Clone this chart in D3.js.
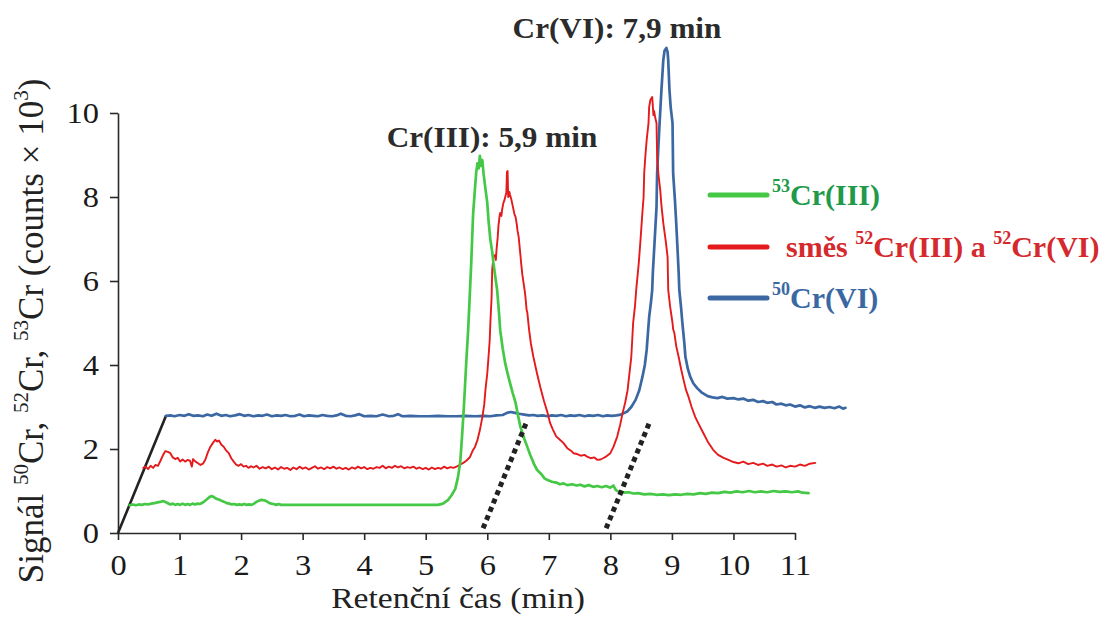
<!DOCTYPE html>
<html>
<head>
<meta charset="utf-8">
<script src="https://cdn.jsdelivr.net/npm/d3@7"></script>
<style>
  html, body { margin: 0; padding: 0; background: #fff; }
  svg { display: block; }
</style>
</head>
<body>
<svg id="chart" width="1103" height="628"></svg>
<script>
// Retention time axis (min) and signal axis (counts × 10^3)
const timeTicks = [0, 1, 2, 3, 4, 5, 6, 7, 8, 9, 10, 11];
const signalTicks = [0, 2, 4, 6, 8, 10];

// Species retention times marked on the depth planes
const retentionTimes = [5.9, 7.9];
const peakLabels = ["Cr(III): 5,9 min", "Cr(VI): 7,9 min"];

// End point of the slanted depth axis (time, signal)
const depthAxisEnd = [0.78, 2.79];

// 53Cr(III) trace [time, signal] as plotted on its depth plane
const cr53 = [
  [0.19,0.66],[0.24,0.68],[0.29,0.66],[0.34,0.68],[0.39,0.67],[0.44,0.69],[0.49,0.68],[0.54,0.70],
  [0.59,0.71],[0.64,0.73],[0.69,0.74],[0.73,0.76],[0.77,0.74],[0.81,0.71],[0.85,0.68],[0.89,0.70],
  [0.93,0.67],[0.97,0.69],[1.01,0.67],[1.05,0.70],[1.09,0.67],[1.13,0.69],[1.17,0.67],[1.21,0.70],
  [1.25,0.68],[1.29,0.70],[1.33,0.69],[1.37,0.72],[1.41,0.76],[1.45,0.81],[1.49,0.86],[1.53,0.88],
  [1.57,0.84],[1.61,0.81],[1.65,0.79],[1.69,0.76],[1.73,0.74],[1.77,0.71],[1.81,0.70],[1.85,0.68],
  [1.89,0.69],[1.93,0.67],[1.97,0.68],[2.01,0.67],[2.05,0.69],[2.09,0.67],[2.13,0.68],[2.17,0.67],
  [2.21,0.70],[2.25,0.74],[2.29,0.77],[2.33,0.79],[2.37,0.78],[2.41,0.76],[2.45,0.72],[2.49,0.70],
  [2.53,0.69],[2.57,0.67],[2.61,0.69],[2.65,0.67],[2.70,0.67],[3.50,0.67],[4.50,0.67],[5.20,0.67],
  [5.28,0.70],[5.36,0.78],[5.42,0.90],[5.48,1.05],[5.52,1.30],[5.56,1.67],[5.59,2.30],[5.62,3.00],
  [5.66,4.10],[5.69,4.85],[5.72,5.80],[5.74,6.45],[5.77,7.60],[5.80,8.20],[5.82,8.58],[5.84,8.80],
  [5.86,8.68],[5.88,8.98],[5.90,8.74],[5.92,8.88],[5.94,8.55],[5.97,8.20],[6.00,7.86],[6.02,7.45],
  [6.05,6.98],[6.08,6.70],[6.10,6.43],[6.13,6.10],[6.16,5.79],[6.19,5.25],[6.21,4.83],[6.25,4.40],
  [6.29,4.05],[6.33,3.80],[6.37,3.57],[6.41,3.35],[6.46,3.10],[6.50,2.80],[6.54,2.52],[6.60,2.25],
  [6.65,2.05],[6.70,1.85],[6.76,1.64],[6.81,1.50],[6.88,1.40],[6.93,1.30],[6.98,1.26],[7.05,1.22],
  [7.12,1.20],[7.18,1.16],[7.24,1.18],[7.30,1.14],[7.38,1.16],[7.45,1.13],[7.51,1.15],[7.58,1.11],
  [7.65,1.14],[7.72,1.10],[7.79,1.12],[7.86,1.09],[7.93,1.12],[8.00,1.08],[8.05,1.13],[8.09,1.02],
  [8.14,0.98],[8.22,0.96],[8.30,0.97],[8.37,0.94],[8.45,0.95],[8.55,0.92],[8.65,0.93],[8.75,0.91],
  [8.85,0.92],[8.95,0.90],[9.05,0.92],[9.15,0.91],[9.25,0.93],[9.35,0.92],[9.46,0.95],[9.55,0.93],
  [9.65,0.96],[9.75,0.95],[9.85,0.98],[9.95,0.96],[10.05,0.99],[10.15,0.97],[10.25,1.00],[10.35,0.97],
  [10.45,0.99],[10.55,0.97],[10.65,1.00],[10.75,0.98],[10.85,0.99],[10.95,0.97],[11.05,0.99],[11.12,0.96],
  [11.22,0.95]
];

// Mixture of 52Cr(III) and 52Cr(VI)
const cr52mix = [
  [0.41,1.55],[0.45,1.58],[0.49,1.52],[0.53,1.60],[0.57,1.55],[0.61,1.62],[0.65,1.60],[0.69,1.72],
  [0.73,1.85],[0.77,1.95],[0.81,1.93],[0.85,1.90],[0.89,1.80],[0.93,1.76],[0.97,1.79],[1.01,1.70],
  [1.05,1.75],[1.09,1.70],[1.13,1.74],[1.17,1.72],[1.20,1.58],[1.22,1.76],[1.26,1.70],[1.30,1.66],
  [1.34,1.62],[1.38,1.65],[1.42,1.75],[1.46,1.92],[1.50,2.05],[1.54,2.14],[1.58,2.22],[1.61,2.18],
  [1.64,2.20],[1.68,2.10],[1.72,2.05],[1.76,1.96],[1.80,1.90],[1.84,1.78],[1.88,1.70],[1.92,1.63],
  [1.96,1.60],[2.00,1.64],[2.04,1.58],[2.08,1.60],[2.12,1.55],[2.16,1.59],[2.20,1.56],[2.25,1.60],
  [2.30,1.53],[2.35,1.57],[2.40,1.54],[2.45,1.58],[2.50,1.52],[2.55,1.56],[2.60,1.51],[2.65,1.57],
  [2.70,1.53],[2.75,1.55],[2.80,1.50],[2.85,1.56],[2.90,1.52],[2.95,1.58],[3.00,1.53],[3.05,1.56],
  [3.10,1.51],[3.15,1.55],[3.20,1.59],[3.25,1.53],[3.30,1.56],[3.35,1.52],[3.40,1.57],[3.45,1.54],
  [3.50,1.58],[3.55,1.53],[3.60,1.56],[3.65,1.52],[3.70,1.55],[3.75,1.51],[3.80,1.56],[3.85,1.53],
  [3.90,1.58],[3.95,1.54],[4.00,1.57],[4.05,1.52],[4.10,1.55],[4.15,1.53],[4.20,1.57],[4.25,1.55],
  [4.30,1.60],[4.35,1.54],[4.40,1.58],[4.45,1.55],[4.50,1.60],[4.55,1.56],[4.60,1.59],[4.65,1.54],
  [4.70,1.57],[4.75,1.55],[4.80,1.58],[4.85,1.53],[4.90,1.56],[4.95,1.52],[5.00,1.55],[5.05,1.51],
  [5.10,1.56],[5.15,1.52],[5.20,1.55],[5.25,1.53],[5.30,1.58],[5.35,1.54],[5.40,1.57],[5.45,1.55],
  [5.50,1.58],[5.55,1.62],[5.61,1.67],[5.66,1.72],[5.72,1.81],[5.76,1.95],[5.80,2.05],[5.84,2.21],
  [5.88,2.45],[5.92,2.76],[5.95,3.05],[5.97,3.40],[6.00,3.80],[6.02,4.19],[6.04,4.60],[6.05,5.00],
  [6.07,5.60],[6.08,6.26],[6.10,6.57],[6.13,6.62],[6.14,6.50],[6.15,6.74],[6.17,7.05],[6.18,7.29],
  [6.20,7.55],[6.21,7.62],[6.23,7.55],[6.24,7.69],[6.26,7.85],[6.28,7.93],[6.30,8.05],[6.31,8.10],
  [6.32,8.60],[6.33,8.62],[6.34,8.00],[6.36,8.12],[6.37,8.05],[6.39,7.95],[6.42,7.74],[6.44,7.60],
  [6.46,7.52],[6.48,7.35],[6.49,7.21],[6.51,7.05],[6.52,6.90],[6.54,6.60],[6.55,6.43],[6.57,6.15],
  [6.59,5.95],[6.61,5.75],[6.62,5.62],[6.64,5.30],[6.65,5.26],[6.68,4.83],[6.71,4.50],[6.75,4.19],
  [6.80,3.85],[6.86,3.48],[6.92,3.15],[6.98,2.86],[7.02,2.62],[7.07,2.45],[7.12,2.30],[7.18,2.22],
  [7.24,2.14],[7.30,2.02],[7.36,1.96],[7.40,1.90],[7.46,1.88],[7.52,1.84],[7.58,1.86],[7.63,1.81],
  [7.68,1.78],[7.74,1.80],[7.79,1.74],[7.84,1.75],[7.88,1.78],[7.93,1.82],[8.00,1.90],[8.05,2.05],
  [8.11,2.29],[8.16,2.58],[8.20,2.86],[8.24,3.10],[8.28,3.40],[8.31,3.80],[8.34,4.19],[8.37,5.00],
  [8.40,5.40],[8.42,5.79],[8.46,6.40],[8.49,6.98],[8.52,7.62],[8.54,8.00],[8.55,8.57],[8.57,9.00],
  [8.59,9.36],[8.62,9.76],[8.63,10.14],[8.65,10.31],[8.68,10.38],[8.70,9.95],[8.71,10.05],[8.73,9.88],
  [8.75,9.76],[8.76,8.95],[8.78,8.55],[8.81,8.17],[8.83,7.80],[8.86,7.38],[8.90,6.95],[8.93,6.57],
  [8.94,5.79],[8.97,5.40],[9.01,5.00],[9.02,4.85],[9.04,4.76],[9.07,4.45],[9.11,4.19],[9.15,3.90],
  [9.19,3.64],[9.23,3.40],[9.27,3.24],[9.32,3.00],[9.38,2.76],[9.44,2.58],[9.51,2.38],[9.58,2.18],
  [9.67,1.98],[9.75,1.86],[9.84,1.79],[9.92,1.74],[10.00,1.69],[10.08,1.66],[10.16,1.70],[10.24,1.64],
  [10.32,1.67],[10.40,1.62],[10.48,1.65],[10.55,1.60],[10.63,1.63],[10.70,1.58],[10.78,1.61],[10.85,1.56],
  [10.92,1.60],[11.00,1.58],[11.08,1.63],[11.16,1.60],[11.24,1.65],[11.33,1.67]
];

// 50Cr(VI) trace
const cr50 = [
  [0.78,2.79],[0.85,2.80],[0.92,2.78],[1.00,2.81],[1.08,2.79],[1.15,2.83],[1.22,2.79],[1.30,2.80],
  [1.38,2.78],[1.45,2.82],[1.52,2.79],[1.60,2.84],[1.68,2.79],[1.75,2.81],[1.82,2.78],[1.90,2.80],
  [1.98,2.83],[2.05,2.79],[2.12,2.81],[2.20,2.78],[2.28,2.80],[2.35,2.79],[2.42,2.82],[2.50,2.78],
  [2.58,2.80],[2.65,2.79],[2.72,2.81],[2.80,2.78],[2.88,2.79],[2.95,2.82],[3.02,2.78],[3.10,2.80],
  [3.18,2.79],[3.25,2.78],[3.32,2.81],[3.40,2.79],[3.48,2.78],[3.55,2.80],[3.62,2.84],[3.70,2.79],
  [3.78,2.78],[3.85,2.80],[3.92,2.83],[4.00,2.78],[4.10,2.79],[4.20,2.78],[4.30,2.82],[4.40,2.78],
  [4.48,2.79],[4.55,2.83],[4.62,2.78],[4.75,2.79],[4.90,2.78],[5.05,2.78],[5.20,2.79],[5.35,2.78],
  [5.50,2.78],[5.65,2.79],[5.80,2.78],[5.95,2.79],[6.05,2.78],[6.15,2.80],[6.25,2.81],[6.32,2.86],
  [6.38,2.88],[6.45,2.86],[6.52,2.84],[6.60,2.82],[6.68,2.80],[6.75,2.81],[6.82,2.79],[6.90,2.80],
  [6.98,2.78],[7.05,2.80],[7.12,2.79],[7.20,2.81],[7.28,2.78],[7.35,2.80],[7.42,2.79],[7.50,2.81],
  [7.58,2.78],[7.65,2.80],[7.72,2.79],[7.80,2.81],[7.88,2.78],[7.95,2.80],[8.02,2.79],[8.10,2.80],
  [8.17,2.82],[8.23,2.86],[8.28,2.90],[8.34,3.00],[8.41,3.17],[8.47,3.40],[8.52,3.71],[8.56,4.00],
  [8.59,4.36],[8.61,4.75],[8.63,5.14],[8.66,5.50],[8.68,5.79],[8.69,6.19],[8.72,6.98],[8.75,7.76],
  [8.76,8.57],[8.78,9.20],[8.80,9.76],[8.83,10.55],[8.86,11.26],[8.88,11.48],[8.91,11.55],[8.93,11.45],
  [8.94,11.26],[8.96,10.55],[8.98,10.14],[9.01,9.76],[9.02,8.57],[9.05,7.90],[9.07,7.38],[9.09,6.80],
  [9.11,6.19],[9.12,5.79],[9.15,5.35],[9.17,5.00],[9.20,4.55],[9.22,4.19],[9.26,3.90],[9.30,3.71],
  [9.35,3.56],[9.41,3.45],[9.48,3.35],[9.58,3.26],[9.66,3.23],[9.74,3.21],[9.82,3.24],[9.90,3.20],
  [10.00,3.21],[10.08,3.18],[10.16,3.20],[10.24,3.15],[10.32,3.17],[10.40,3.12],[10.48,3.14],[10.55,3.10],
  [10.63,3.12],[10.70,3.06],[10.78,3.08],[10.85,3.04],[10.92,3.06],[11.00,3.01],[11.08,3.04],[11.16,2.99],
  [11.24,3.02],[11.32,2.98],[11.40,3.01],[11.48,2.98],[11.56,3.00],[11.64,2.97],[11.72,3.01],[11.78,2.96],
  [11.82,2.98]
];

// Legend entries: rich-text parts ([text, isSuperscript])
const legendEntries = [
  { key: "cr53", parts: [["53", true], ["Cr(III)", false]] },
  { key: "mix",  parts: [["směs ", false], ["52", true], ["Cr(III) a ", false], ["52", true], ["Cr(VI)", false]] },
  { key: "cr50", parts: [["50", true], ["Cr(VI)", false]] }
];

const serif = '"Liberation Serif","Times New Roman",Times,serif';
const styles = {
  cr53: { line: "#45c845", text: "#1f9a4b", width: 2.7, textX: 772 },
  mix:  { line: "#e41a1c", text: "#d42a2e", width: 1.9, textX: 786 },
  cr50: { line: "#3b68a3", text: "#3a68a2", width: 2.7, textX: 772 }
};
const stretch = 1.12; // horizontal widening of the regular-weight lettering

const svg = d3.select("#chart");
svg.append("rect").attr("width", 1103).attr("height", 628).attr("fill", "#fff");

const x = d3.scaleLinear().domain([0, 11]).range([118, 795]);
const y = d3.scaleLinear().domain([0, 10]).range([533, 113]);

// Axes
const xAxis = d3.axisBottom(x).tickValues(timeTicks).tickSize(7).tickSizeOuter(0).tickPadding(14).tickFormat(d3.format("d"));
const yAxis = d3.axisLeft(y).tickValues(signalTicks).tickSize(8).tickSizeOuter(0).tickPadding(9).tickFormat(d3.format("d"));

const gx = svg.append("g").attr("transform", `translate(0,${y(0)})`).call(xAxis);
const gy = svg.append("g").attr("transform", `translate(${x(0)},0)`).call(yAxis);
[gx, gy].forEach(g => {
  g.select(".domain").attr("stroke", "#2a2a2a").attr("stroke-width", 1.6);
  g.selectAll(".tick line").attr("stroke", "#2a2a2a").attr("stroke-width", 1.6);
  g.selectAll(".tick text")
    .attr("fill", "#1a1a1a")
    .attr("transform", `scale(${stretch},1)`)
    .style("font-family", serif).style("font-size", "29px");
});

// Rich text helper with superscripts
function richText(sel, parts, size) {
  const shift = size * 0.42;
  let raised = false;
  parts.forEach(([t, sup]) => {
    const ts = sel.append("tspan").text(t);
    if (sup) {
      ts.attr("font-size", size * 0.6).attr("dy", raised ? 0 : -shift);
      raised = true;
    } else {
      ts.attr("font-size", size).attr("dy", raised ? shift : 0);
      raised = false;
    }
  });
  return sel;
}

// Axis titles
richText(
  svg.append("text")
    .attr("transform", "translate(43,331) rotate(-90)")
    .attr("text-anchor", "middle")
    .attr("fill", "#222")
    .style("font-family", serif),
  [["Signál ", false], ["50", true], ["Cr, ", false], ["52", true], ["Cr, ", false], ["53", true],
   ["Cr (counts ", false], ["× ", false], ["10", false], ["3", true], [")", false]],
  35
);

svg.append("text")
  .attr("transform", `translate(458,608) scale(${stretch},1)`)
  .attr("text-anchor", "middle")
  .attr("fill", "#222")
  .style("font-family", serif).style("font-size", "30px")
  .text("Retenční čas (min)");

// Slanted depth axis
svg.append("line")
  .attr("x1", x(0)).attr("y1", y(0))
  .attr("x2", x(depthAxisEnd[0])).attr("y2", y(depthAxisEnd[1]))
  .attr("stroke", "#222").attr("stroke-width", 2.6);

// Traces
const line = d3.line().x(d => x(d[0])).y(d => y(d[1]));
[["cr50", cr50], ["mix", cr52mix], ["cr53", cr53]].forEach(([k, data]) => {
  svg.append("path")
    .datum(data)
    .attr("d", line)
    .attr("fill", "none")
    .attr("stroke", styles[k].line)
    .attr("stroke-width", styles[k].width)
    .attr("stroke-linejoin", "round")
    .attr("stroke-linecap", "round");
});

// Dotted guides along the depth direction at each retention time
retentionTimes.forEach(rt => {
  svg.append("line")
    .attr("x1", x(rt + depthAxisEnd[0] * 0.04)).attr("y1", y(depthAxisEnd[1] * 0.04))
    .attr("x2", x(rt + depthAxisEnd[0] * 0.95)).attr("y2", y(depthAxisEnd[1] * 0.95))
    .attr("stroke", "#222").attr("stroke-width", 5)
    .attr("stroke-dasharray", "5,4");
});

// Peak annotations
const labelPos = [[492, 147], [617, 38]];
peakLabels.forEach((t, i) => {
  svg.append("text")
    .attr("transform", `translate(${labelPos[i][0]},${labelPos[i][1]}) scale(1.04,1)`)
    .attr("text-anchor", "middle")
    .attr("fill", "#2b2b2b")
    .style("font-family", serif).style("font-weight", "bold").style("font-size", "30px")
    .text(t);
});

// Legend
const legendRows = [195, 247, 298];
legendEntries.forEach((e, i) => {
  const yy = legendRows[i];
  svg.append("line")
    .attr("x1", 710).attr("x2", 767).attr("y1", yy).attr("y2", yy)
    .attr("stroke", styles[e.key].line).attr("stroke-width", 5).attr("stroke-linecap", "round");
  richText(
    svg.append("text")
      .attr("x", styles[e.key].textX).attr("y", yy + 10)
      .attr("fill", styles[e.key].text)
      .style("font-family", serif).style("font-weight", "bold"),
    e.parts, 30
  );
});
</script>
</body>
</html>
